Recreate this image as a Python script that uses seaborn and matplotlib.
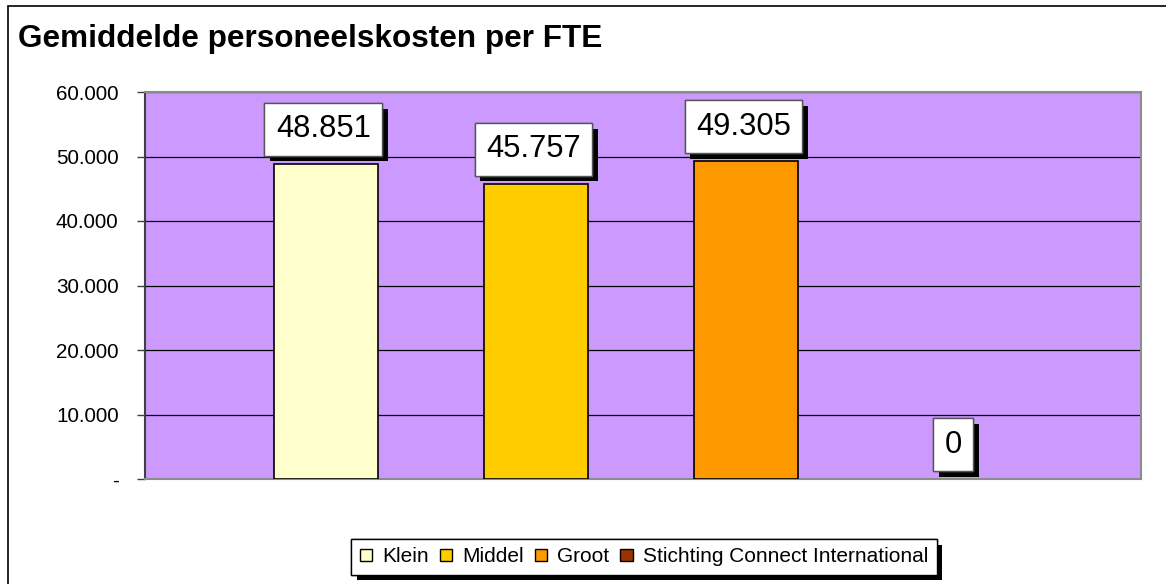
import matplotlib
matplotlib.use("Agg")
import matplotlib.pyplot as plt
import matplotlib.patheffects as pe
from matplotlib.patches import Patch, Rectangle
from matplotlib.ticker import FuncFormatter
import pandas as pd
import seaborn as sns

# data
categories = ["Klein", "Middel", "Groot", "Stichting Connect International"]
values = [48851, 45757, 49305, 0]
colors = ["#FFFFCC", "#FFCC00", "#FF9900", "#993300"]
yticks = [0, 10000, 20000, 30000, 40000, 50000, 60000]
title = "Gemiddelde personeelskosten per FTE"

sns.set_style("white")
plt.rcParams["font.family"] = ["Liberation Sans", "DejaVu Sans"]
plt.rcParams["text.color"] = "black"
plt.rcParams["ytick.color"] = "black"

df = pd.DataFrame({"groep": categories, "kosten": values})

fig = plt.figure(figsize=(11.66, 5.84), dpi=100)
ax = fig.add_axes([145 / 1166, 1 - 479 / 584, (1141 - 145) / 1166, (479 - 92) / 584])
ax.set_facecolor("#CC99FF")

sns.barplot(data=df, x="groep", y="kosten", hue="groep", palette=colors,
            saturation=1, width=0.495, edgecolor="black", linewidth=1.2,
            legend=False, ax=ax, zorder=3)
# an empty bar shows no outline
for bar in ax.patches:
    if bar.get_height() == 0:
        bar.set_linewidth(0)

ax.set_xlim(-0.862, 3.88)
ax.set_ylim(0, 60000)
ax.set_yticks(yticks)
ax.yaxis.set_major_formatter(FuncFormatter(
    lambda v, p: "-" if v == 0 else f"{int(v):,}".replace(",", ".")))
ax.tick_params(axis="y", left=True, length=6, width=1, color="#404040",
               labelsize=14.9, labelcolor="black", pad=13)
ax.set_xticks([])
ax.set_xlabel("")
ax.set_ylabel("")
ax.yaxis.grid(True, color="black", linewidth=0.9, zorder=1)
ax.set_axisbelow(True)
for s in ["top", "right", "bottom"]:
    ax.spines[s].set_color("#8c8c8c")
    ax.spines[s].set_linewidth(1.5)
ax.spines["left"].set_color("#404040")
ax.spines["left"].set_linewidth(1.5)

shadow = [pe.withSimplePatchShadow(offset=(4, -4), shadow_rgbFace="black", alpha=1.0),
          pe.Normal()]

for i, v in enumerate(values):
    lab = f"{v:,}".replace(",", ".")
    t = ax.annotate(lab, xy=(i, v), xytext=(-2, 14), textcoords="offset points",
                    ha="center", va="bottom", fontsize=22.2, color="black", zorder=5,
                    bbox=dict(boxstyle="square,pad=0.37", fc="white",
                              ec="#555555", lw=1))
    t.get_bbox_patch().set_path_effects(shadow)

fig.text(18 / 1166, 1 - 47 / 584, title, fontsize=22.7, fontweight="bold",
         va="baseline", ha="left", color="black")

handles = [Patch(facecolor=c, edgecolor="black", linewidth=1) for c in colors]
leg = fig.legend(handles, categories, loc="center", ncol=4,
                 bbox_to_anchor=(644 / 1166, 1 - 557 / 584), fontsize=15,
                 frameon=True, fancybox=False, edgecolor="black",
                 facecolor="white", framealpha=1,
                 handlelength=0.6, handleheight=0.45, handletextpad=0.5,
                 columnspacing=0.5, borderpad=0.4, borderaxespad=0)
leg.get_frame().set_linewidth(1)
leg.get_frame().set_path_effects(shadow)

# outer chart border
fig.patches.append(Rectangle((8 / 1166, -0.1), 1.2, 1 - 6 / 584 + 0.1,
                             transform=fig.transFigure, fill=False,
                             edgecolor="black", linewidth=1.2))

fig.savefig("out.png", dpi=100)
